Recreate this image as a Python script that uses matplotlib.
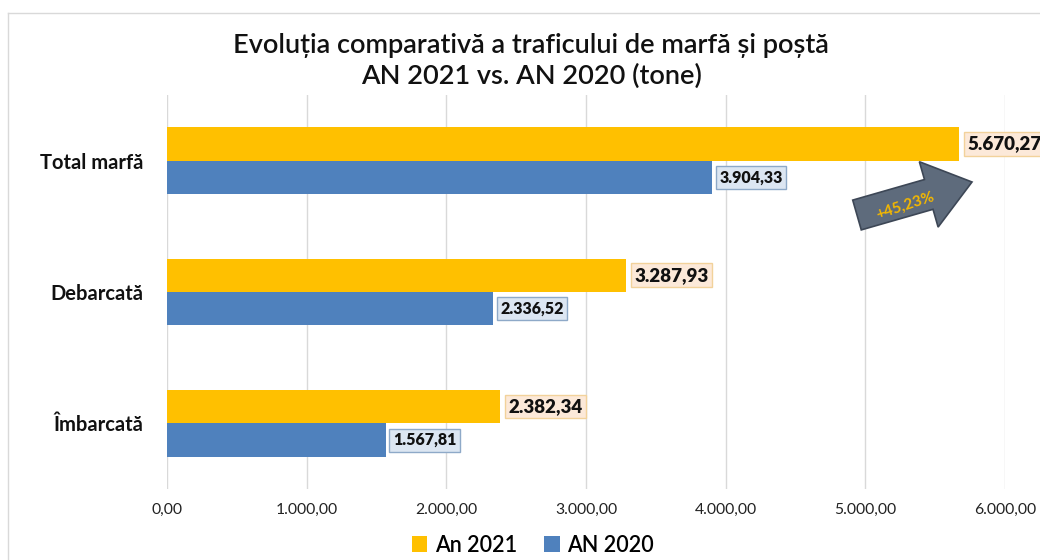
import matplotlib
matplotlib.use("Agg")
import matplotlib.pyplot as plt
import matplotlib.patches as mpatches
import matplotlib.transforms as mtransforms

plt.rcParams['font.family'] = ['Lato', 'DejaVu Sans']

# data
categories = ["Total marfă", "Debarcată", "Îmbarcată"]
an_2021 = [5670.27, 3287.93, 2382.34]
an_2020 = [3904.33, 2336.52, 1567.81]
series_labels = ["An 2021", "AN 2020"]
x_ticks = [0, 1000, 2000, 3000, 4000, 5000, 6000]

YELLOW = "#FFC000"
BLUE = "#4F81BD"


def fmt_ro(v):
    # romanian number format: 5.670,27
    s = f"{v:,.2f}"
    return s.replace(",", "X").replace(".", ",").replace("X", ".")


fig = plt.figure(figsize=(10.4, 5.6), dpi=100)
ax = fig.add_axes([167 / 1040, 1 - 489 / 560, (1005 - 167) / 1040, (489 - 95) / 560])

pos = list(range(len(categories)))[::-1]
h = 0.255
ax.barh([p + h / 2 for p in pos], an_2021, height=h, color=YELLOW, label=series_labels[0], zorder=3)
ax.barh([p - h / 2 for p in pos], an_2020, height=h, color=BLUE, label=series_labels[1], zorder=3)

ax.set_xlim(0, 6000)
ax.set_ylim(-0.5, 2.5)
ax.set_xticks(x_ticks)
ax.set_xticklabels([fmt_ro(v) for v in x_ticks], fontsize=11.3, color="#222222")
ax.set_yticks(pos)
ax.set_yticklabels(categories, fontsize=14.5, fontweight="bold", color="#111111")
ax.tick_params(axis="both", length=0)
ax.tick_params(axis="y", pad=17)
ax.tick_params(axis="x", pad=10)
for s in ax.spines.values():
    s.set_visible(False)
ax.grid(axis="x", color="#D9D9D9", lw=1, zorder=0)
ax.set_axisbelow(True)

# data labels
for p, v in zip(pos, an_2021):
    ax.annotate(fmt_ro(v), (v, p + h / 2), xytext=(6, 0), textcoords="offset points",
                va="center", ha="left", fontsize=13.5, fontweight="heavy", color="#111111",
                bbox=dict(boxstyle="square,pad=0.18", fc="#FCE9D9", ec="#F2D29B", lw=1),
                zorder=5, annotation_clip=False)
for p, v in zip(pos, an_2020):
    ax.annotate(fmt_ro(v), (v, p - h / 2), xytext=(5, 0), textcoords="offset points",
                va="center", ha="left", fontsize=11.5, fontweight="heavy", color="#111111",
                bbox=dict(boxstyle="square,pad=0.22", fc="#DCE6F2", ec="#8EA9C8", lw=1),
                zorder=5, annotation_clip=False)

# growth arrow
growth = (an_2021[0] / an_2020[0] - 1) * 100
px = mtransforms.IdentityTransform()
arrow = mpatches.FancyArrow(857, 345, 115, 33, width=31, head_width=68, head_length=45,
                            length_includes_head=True, transform=px,
                            fc="#5E6B7C", ec="#3D4756", lw=1.2, zorder=6)
fig.patches.append(arrow)
fig.text(905 / 1040, 1 - 206 / 560, "+" + fmt_ro(growth) + "%", rotation=18,
         ha="center", va="center", fontsize=11, fontweight="bold", color="#F5B800", zorder=7)

# title
fig.text(531 / 1040, 1 - 45 / 560, "Evoluția comparativă a traficului de marfă și poștă",
         ha="center", va="center", fontsize=19.5, fontweight="semibold", color="#111111")
fig.text(531 / 1040, 1 - 76 / 560, "AN 2021 vs. AN 2020 (tone)",
         ha="center", va="center", fontsize=19.5, fontweight="semibold", color="#111111")

# legend
fig.legend(loc="center", bbox_to_anchor=(533 / 1040, 1 - 545 / 560), ncol=2, frameon=False,
           prop={"size": 15.5, "weight": "semibold"},
           handlelength=0.7, handleheight=0.7, handletextpad=0.35, columnspacing=1.28)

# chart frame
frame_c = "#D9D9D9"
fig.add_artist(plt.Line2D([8 / 1040, 8 / 1040], [0, 1 - 13 / 560], transform=fig.transFigure, color=frame_c, lw=1))
fig.add_artist(plt.Line2D([8 / 1040, 1], [1 - 13 / 560, 1 - 13 / 560], transform=fig.transFigure, color=frame_c, lw=1))

fig.savefig("out.png", dpi=100)
